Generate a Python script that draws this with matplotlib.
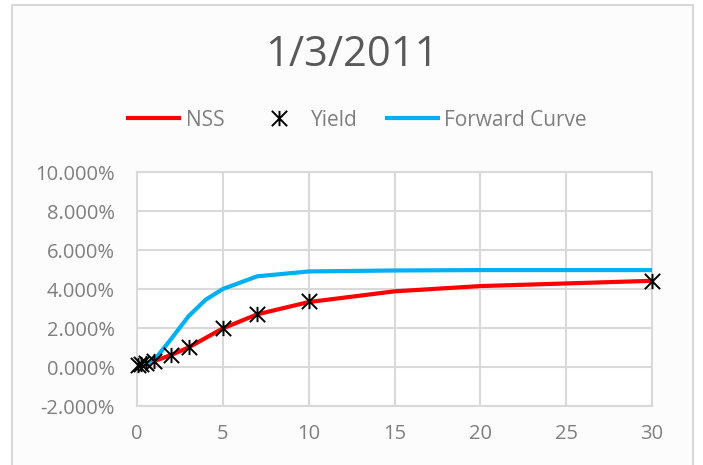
import matplotlib.pyplot as plt
from matplotlib.patches import Rectangle
from matplotlib.path import Path
from matplotlib.ticker import FuncFormatter

# maturities in years
yield_x = [1/12, 0.25, 0.5, 1, 2, 3, 5, 7, 10, 30]
yield_y = [0.11, 0.15, 0.19, 0.29, 0.61, 1.03, 2.02, 2.74, 3.36, 4.39]

nss_x = [1/12, 0.25, 0.5, 1, 2, 3, 5, 7, 10, 15, 20, 30]
nss_y = [0.05, 0.10, 0.17, 0.30, 0.62, 1.00, 1.98, 2.70, 3.33, 3.88, 4.15, 4.42]

fwd_x = [0.5, 1, 2, 3, 4, 5, 7, 10, 15, 20, 30]
fwd_y = [0.15, 0.35, 1.45, 2.60, 3.45, 4.00, 4.65, 4.90, 4.95, 4.97, 4.97]

x_ticks = [0, 5, 10, 15, 20, 25, 30]
y_ticks = [-2, 0, 2, 4, 6, 8, 10]

FONT = 'Open Sans'
GREY = '#7f7f7f'

# excel style star: X with a vertical bar
star = Path([(-1, -1), (1, 1), (-1, 1), (1, -1), (0, -1), (0, 1)],
            [Path.MOVETO, Path.LINETO] * 3)

fig = plt.figure(figsize=(7.03, 4.65), dpi=100)
fig.patch.set_facecolor('white')

# chart frame
W, H = 703, 465
fig.patches.append(Rectangle((12 / W, -0.05), (693 - 12) / W, (H - 5) / H + 0.05,
                             transform=fig.transFigure, facecolor='#fcfcfc',
                             edgecolor='#d9d9d9', linewidth=1.5, zorder=-5))

ax = fig.add_axes([137 / W, 1 - 406 / H, (652 - 137) / W, (406 - 172) / H])
ax.set_facecolor('white')

ax.plot(nss_x, nss_y, color='#ff0000', lw=3, label='NSS', zorder=3)
ax.plot(yield_x, yield_y, ls='none', marker=star, ms=11, mew=1.4,
        color='black', label='Yield', zorder=4, clip_on=False)
ax.plot(fwd_x, fwd_y, color='#00b0f0', lw=3, label='Forward Curve', zorder=3)

ax.set_xlim(0, 30)
ax.set_ylim(-2, 10)
ax.set_xticks(x_ticks)
ax.set_yticks(y_ticks)
ax.yaxis.set_major_formatter(FuncFormatter(lambda v, p: f'{v:.3f}%'))
ax.grid(True, color='#d9d9d9', lw=1.5)
ax.set_axisbelow(True)
for s in ax.spines.values():
    s.set_color('#d9d9d9')
    s.set_linewidth(1.5)
ax.tick_params(length=0, labelsize=14.5, labelcolor=GREY)
ax.tick_params(axis='y', pad=16)
ax.tick_params(axis='x', pad=13)
for lab in ax.get_xticklabels() + ax.get_yticklabels():
    lab.set_fontfamily(FONT)

fig.text(0.5, 1 - 55 / H, '1/3/2011', ha='center', va='center',
         fontsize=30, color='#595959', family=FONT)

leg = fig.legend(loc='center', bbox_to_anchor=(357.5 / W, 1 - 120 / H), ncol=3,
                 frameon=False, prop={'family': FONT, 'size': 15},
                 handlelength=2.45, columnspacing=1.4, handletextpad=0.3)
for t in leg.get_texts():
    t.set_color(GREY)

fig.savefig('out.png', dpi=100)
